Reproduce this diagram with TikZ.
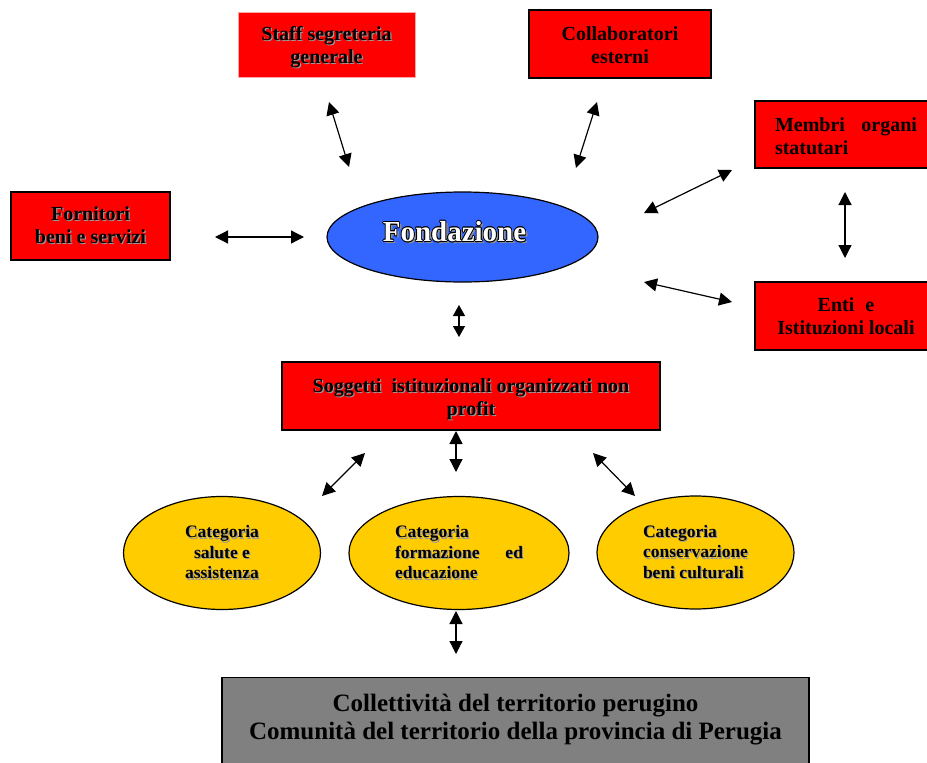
\documentclass[tikz,border=0pt]{standalone}
\usepackage{fontspec}
\setmainfont{Liberation Serif}
\usepackage{contour}
\usetikzlibrary{arrows.meta,shapes.geometric}
\definecolor{rosso}{HTML}{FF0000}
\definecolor{blu}{HTML}{3366FF}
\definecolor{giallo}{HTML}{FFCC00}
\definecolor{grigio}{HTML}{808080}
\contourlength{0.7pt}
\newcommand\ombra[1]{\rlap{\kern1.2pt\raisebox{-1.2pt}{\textcolor{black!40}{#1}}}#1}
\newcommand\fondtxt{\rlap{\kern2.2pt\raisebox{-2.2pt}{\textcolor{black!45}{Fondazione}}}\contour{black}{\textcolor{white}{Fondazione}}}

\begin{document}
\begin{tikzpicture}[x=1pt,y=-1pt,
scatola/.style={rectangle,fill=rosso,draw=black,line width=1.4pt,inner sep=0pt,align=center,font=\fontsize{20}{23}\selectfont\bfseries},
categ/.style={ellipse,fill=giallo,draw=black,line width=1.2pt,minimum width=197pt,minimum height=113pt,inner sep=0pt,align=center,font=\fontsize{17.5}{20.5}\selectfont\bfseries},
freccia/.style={{Triangle[length=13pt,width=13pt]}-{Triangle[length=13pt,width=13pt]},line width=1.2pt}]
\useasboundingbox (0,0) rectangle (927,763);
% caselle in alto
\node[scatola,draw=rosso!35,line width=0.6pt,minimum width=177pt,minimum height=65pt](staff) at (326.5,44.5){\rule{0pt}{21pt}\ombra{Staff segreteria}\\\ombra{generale}};
\node[scatola,minimum width=182pt,minimum height=68pt](collab) at (620,44){\rule{0pt}{17pt}Collaboratori\\esterni};
\node[scatola,minimum width=182pt,minimum height=67pt,align=left](membri) at (846,134.5){\rule{0pt}{17pt}\makebox[142pt][s]{Membri organi}\\statutari};
\node[scatola,minimum width=182pt,minimum height=68pt](enti) at (846,316){Enti\hspace{11pt}e\\Istituzioni locali};
\node[scatola,minimum width=159pt,minimum height=68pt](forn) at (90.5,226){\ombra{Fornitori}\\\ombra{beni e servizi}};
% fondazione
\node[ellipse,fill=blu,draw=black,line width=1.2pt,minimum width=271pt,minimum height=90pt,inner sep=0pt,font=\fontsize{29}{32}\selectfont\bfseries,text height=9pt,text depth=0pt](fond) at (462.5,237){\fondtxt\kern16pt};
\node[scatola,minimum width=378pt,minimum height=68pt](sogg) at (471,396){\rule{0pt}{21pt}\ombra{Soggetti\ \ istituzionali organizzati non}\\\ombra{profit}};
% categorie
\node[categ](salute) at (222,553){\ombra{Categoria}\\\ombra{salute e}\\\ombra{assistenza}};
\node[categ,minimum width=220pt,align=left](formaz) at (459,553){\ombra{Categoria}\\\ombra{\makebox[128pt][s]{formazione ed}}\\\ombra{educazione}};
\node[categ,align=left](conserv) at (695.5,552.5){\ombra{Categoria}\\\ombra{conservazione}\\\ombra{beni culturali}};
\node[rectangle,fill=grigio,draw=black,line width=1.4pt,minimum width=587pt,minimum height=110pt,inner sep=0pt,anchor=north,align=center,font=\fontsize{25}{28}\selectfont\bfseries,text height=50pt,text depth=36pt](colle) at (515.5,677){Collettività del territorio perugino\\Comunità del territorio della provincia di Perugia};
% estremi delle frecce
\coordinate (s1) at (329,102);\coordinate (s2) at (349,167);
\coordinate (c1) at (597,102);\coordinate (c2) at (576,168);
\coordinate (f1) at (215,237);\coordinate (f2) at (304,237);
\coordinate (m1) at (732,170);\coordinate (m2) at (644,213);
\coordinate (e1) at (644,282);\coordinate (e2) at (732,302);
\coordinate (me1) at (845,192);\coordinate (me2) at (845,258);
\coordinate (o1) at (459,305);\coordinate (o2) at (459,337);
\coordinate (l1) at (365,453);\coordinate (l2) at (322,496);
\coordinate (k1) at (456,431);\coordinate (k2) at (456,472);
\coordinate (r1) at (593,453);\coordinate (r2) at (635,496);
\coordinate (g1) at (456,611);\coordinate (g2) at (456,654);
\draw[freccia](s1)--(s2);\draw[freccia](c1)--(c2);\draw[freccia](f1)--(f2);
\draw[freccia](m1)--(m2);\draw[freccia](e1)--(e2);\draw[freccia](me1)--(me2);
\draw[freccia,{Triangle[length=11pt,width=12pt]}-{Triangle[length=11pt,width=12pt]}](o1)--(o2);
\draw[freccia](l1)--(l2);\draw[freccia](k1)--(k2);\draw[freccia](r1)--(r2);
\draw[freccia](g1)--(g2);
\end{tikzpicture}
\end{document}
